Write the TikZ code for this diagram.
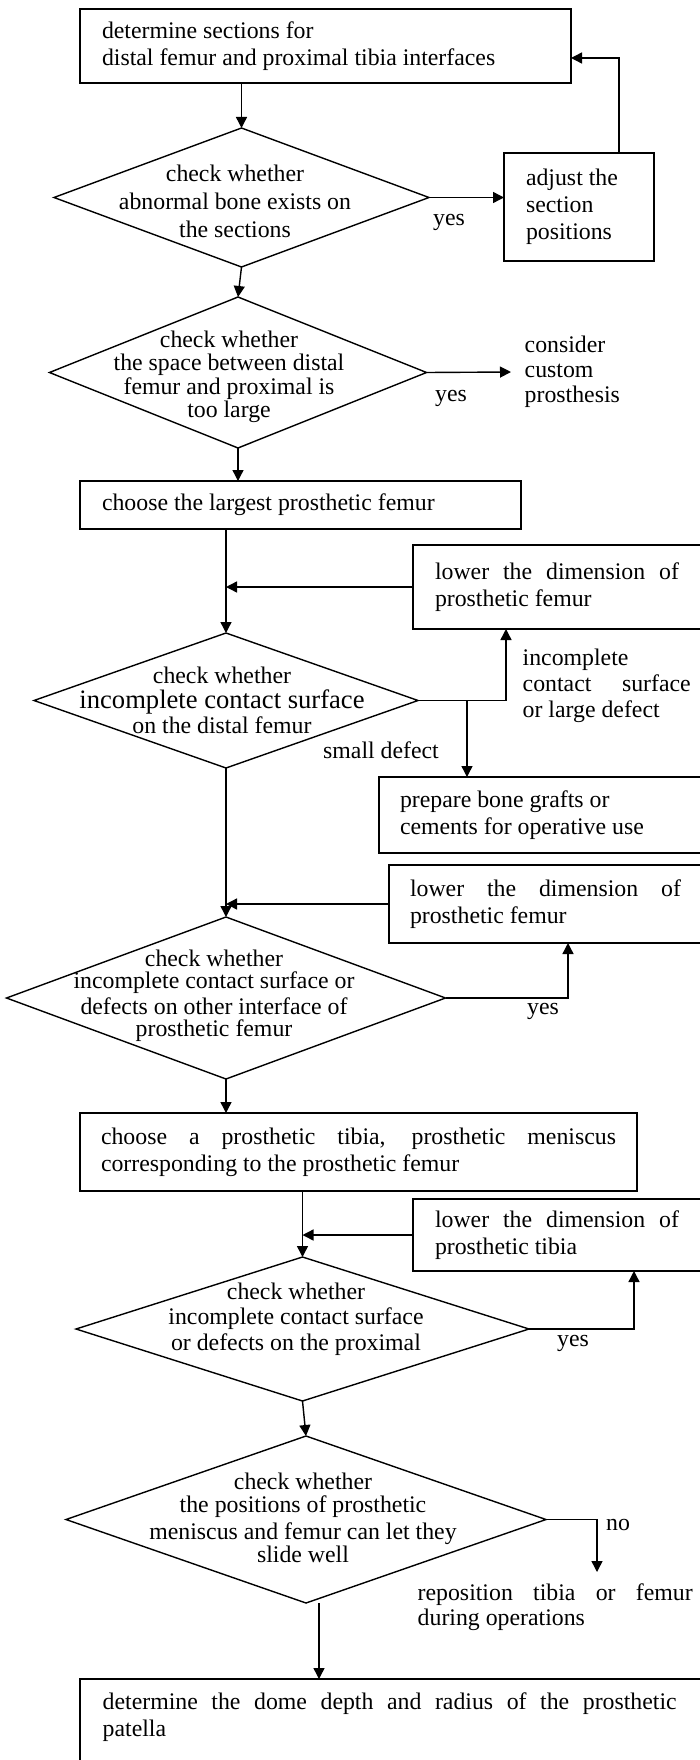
\documentclass[tikz,border=0pt]{standalone}
\usepackage{fontspec}
\setmainfont{Liberation Serif}
\usetikzlibrary{shapes.geometric,arrows.meta,calc}
\newcommand\fs{\fontsize{23.8pt}{27pt}\selectfont}
\newcommand\fsd{\fontsize{23.8pt}{25pt}\selectfont}
\newcommand\fsbig{\fontsize{26.6pt}{28pt}\selectfont}
\newcommand\jline[2]{\makebox[#1][s]{\spaceskip=0pt\xspaceskip=0pt\relax #2}}
\begin{document}
\begin{tikzpicture}[x=1pt,y=-1pt,line width=1.4pt,
  arr/.style={-{Triangle[length=11pt,width=11pt]}},
  box/.style={draw,rectangle,anchor=north west,inner xsep=22pt,inner ysep=0pt,align=flush left,font=\fs,outer sep=0pt},
  dia/.style={draw,diamond,inner sep=0pt,outer sep=0pt},
  lbl/.style={inner sep=0pt,font=\fsd},
  dtext/.style={inner sep=0pt,align=center,font=\fsd}]
\useasboundingbox (0,0) rectangle (700,1760);
\clip (0,0) rectangle (700,1760);
% ---------- boxes ----------
\node[box,minimum width=491pt,minimum height=74pt,text width=447pt] (b1) at (80,9)
  {determine sections for\\distal femur and proximal tibia interfaces};
\node[box,minimum width=150pt,minimum height=108pt,text width=106pt] (adj) at (504,153)
  {adjust the\\section\\positions};
\node[box,minimum width=441pt,minimum height=48pt,text width=397pt] (b3) at (80,481)
  {choose the largest prosthetic femur};
\node[box,minimum width=300pt,minimum height=84pt,text width=256pt] (b4) at (413,545)
  {\jline{244pt}{lower the dimension of}\\prosthetic femur};
\node[box,minimum width=334pt,minimum height=76pt,text width=292pt,inner xsep=21pt] (b5) at (379,777)
  {prepare bone grafts or\\cements for operative use};
\node[box,minimum width=324pt,minimum height=78pt,text width=282pt,inner xsep=21pt] (b6) at (389,865)
  {\jline{271pt}{lower the dimension of}\\prosthetic femur};
\node[box,minimum width=557pt,minimum height=78pt,text width=515pt,inner xsep=21pt] (b7) at (80,1113)
  {\jline{515pt}{choose a prosthetic tibia, prosthetic meniscus}\\corresponding to the prosthetic femur};
\node[box,minimum width=300pt,minimum height=72pt,text width=256pt] (b8) at (413,1199)
  {\jline{244pt}{lower the dimension of}\\prosthetic tibia};
\node[draw,rectangle,anchor=north west,minimum width=633pt,minimum height=95pt,inner sep=0pt,outer sep=0pt] (b9) at (80,1679) {};
\node[lbl,align=left,anchor=west,font=\fs] (t9) at ($(b9.north west)+(22,38.5)$)
  {\jline{574pt}{determine the dome depth and radius of the prosthetic}\\patella};
% ---------- diamonds ----------
\node[dia,minimum width=375pt,minimum height=139pt] (d1) at (241.5,197.5) {};
\node[dtext] (t1) at (235,201) {check whether\\[3pt]abnormal bone exists on\\[3pt]the sections};
\node[dia,minimum width=377pt,minimum height=151pt] (d2) at (238,372.5) {};
\node[dtext] (t2) at (229,377) {check whether\\[-1.5pt]the space between distal\\[-1.5pt]femur and proximal is\\[-1.5pt]too large};
\node[dia,minimum width=384pt,minimum height=135pt] (d3) at (226,700.5) {};
\node[dtext] (t3) at (222,700) {check whether\\{\fsbig incomplete contact surface}\\on the distal femur};
\node[dia,minimum width=439pt,minimum height=162pt] (d4) at (226,998) {};
\node[dtext] (t4) at (214,996) {check whether\\[-3pt]incomplete contact surface or\\[1pt]defects on other interface of\\[-3pt]prosthetic femur};
\node[dia,minimum width=453pt,minimum height=144pt] (d5) at (302.5,1329) {};
\node[dtext] (t5) at (296,1319) {check whether\\incomplete contact surface\\[1pt]or defects on the proximal};
\node[dia,minimum width=480pt,minimum height=167pt] (d6) at (306,1519.5) {};
\node[dtext] (t6) at (303,1518) {check whether\\[-2pt]the positions of prosthetic\\[2pt]meniscus and femur can let they\\[-2pt]slide well};
% ---------- labels ----------
\node[lbl] (y1) at (449,222) {yes};
\node[lbl,align=left,anchor=west,inner xsep=13pt] (cp) at (511,372) {consider\\custom\\prosthesis};
\node[lbl] (y2) at (451,398) {yes};
\node[lbl,align=left,anchor=west,font=\fs] (ic) at (522,686) {incomplete\\[-1pt]\jline{168pt}{contact surface}\\[-1pt]or large defect};
\node[lbl] (sd) at (381,750) {small defect};
\node[lbl] (y4) at (543,1011) {yes};
\node[lbl] (y5) at (573,1343) {yes};
\node[lbl] (no) at (618,1525) {no};
\node[lbl,align=left,anchor=west] (rp) at (417,1607) {\jline{275pt}{reposition tibia or femur}\\during operations};
% ---------- connectors ----------
\draw[arr] (d1.north |- b1.south) -- (d1.north);
\draw[arr] (d1.east) -- (adj.west |- d1.east);
\draw[arr] ($(adj.north)+(40,0)$) |- ($(b1.east)+(0,12)$);
\draw[arr] (d1.south) -- (d2.north);
\draw[arr] (d2.east) -- (cp.west);
\draw[arr] (d2.south) -- (d2.south |- b3.north);
\draw[arr] (d3.north |- b3.south) -- (d3.north);
\draw[arr] (b4.west) -- (b4.west -| d3.north);
\draw[arr] (d3.east) -| ($(b4.south west)+(93,0)$);
\coordinate (br) at ($(d3.east)+(49,0)$);
\draw[arr] (br) -- (br |- b5.north);
\draw[arr] (d3.south) -- (d4.north);
\draw[arr] (b6.west) -- (b6.west -| d4.north);
\draw[arr] (d4.east) -| ($(b6.south west)+(179,0)$);
\draw[arr] (d4.south) -- (d4.south |- b7.north);
\draw[arr] (d5.north |- b7.south) -- (d5.north);
\draw[arr] (b8.west) -- (b8.west -| d5.north);
\draw[arr] (d5.east) -| ($(b8.south west)+(221,0)$);
\draw[arr] (d5.south) -- (d6.north);
\coordinate (rpa) at (597,1572);
\draw[arr] (d6.east) -| (rpa);
\coordinate (d6s) at ($(d6.south)+(13,0)$);
\draw[arr] (d6s) -- (d6s |- b9.north);
\end{tikzpicture}
\end{document}
